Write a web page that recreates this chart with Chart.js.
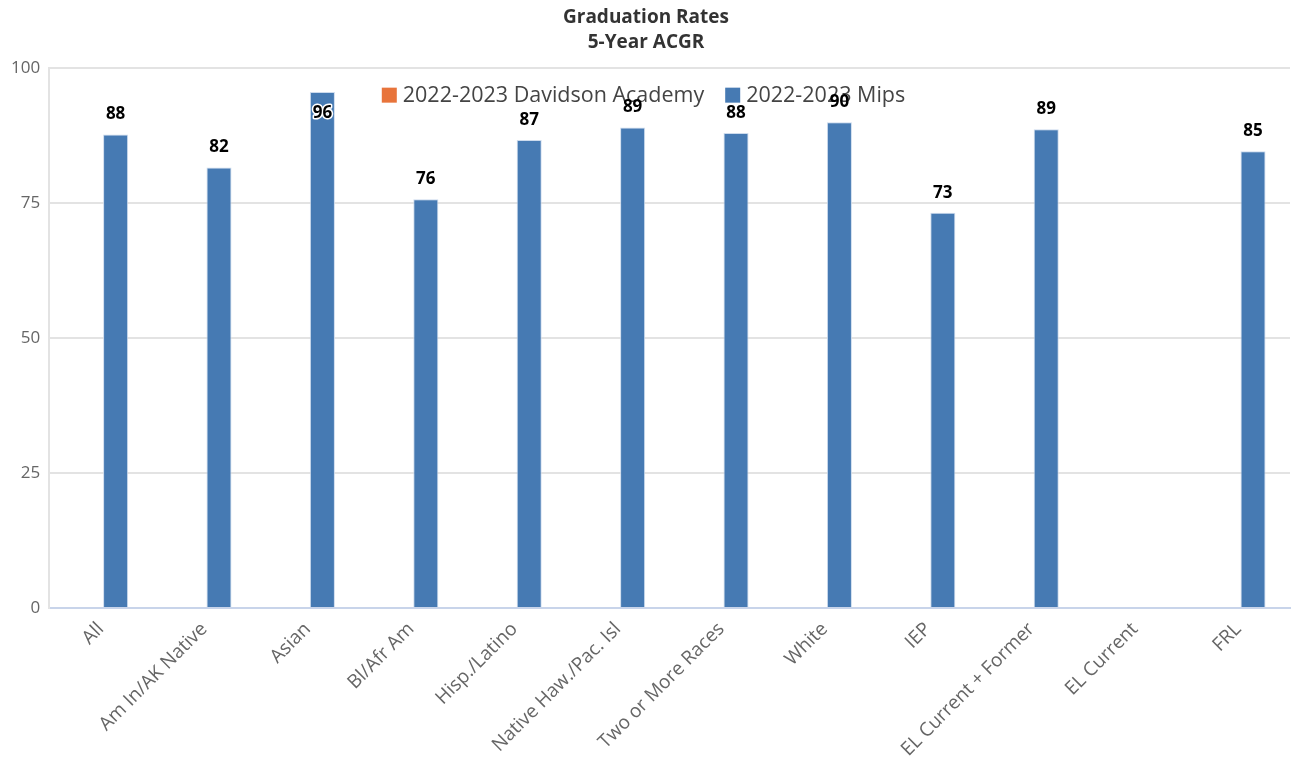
<!DOCTYPE html>
<html>
<head>
<meta charset="utf-8">
<script src="https://cdn.jsdelivr.net/npm/chart.js@4/dist/chart.umd.min.js"></script>
<style>
  html, body { margin: 0; padding: 0; background: #fff; }
  #wrap { width: 1291px; height: 763px; }
</style>
</head>
<body>
<div id="wrap"><canvas id="grad"></canvas></div>
<script>
const groups = ["All", "Am In/AK Native", "Asian", "Bl/Afr Am", "Hisp./Latino",
  "Native Haw./Pac. Isl", "Two or More Races", "White", "IEP",
  "EL Current + Former", "EL Current", "FRL"];
const davidsonRates = [null, null, null, null, null, null, null, null, null, null, null, null];
const mipsRates = [87.7, 81.6, 95.6, 75.7, 86.7, 89.0, 88.0, 90.0, 73.2, 88.7, null, 84.6];
const yTicks = [0, 25, 50, 75, 100];

const FONT = "'Open Sans', 'Noto Sans', sans-serif";

// legend sits inside the plot, just under the top gridline
const innerLegend = {
  id: "innerLegend",
  beforeDatasetsDraw(chart) {
    const ctx = chart.ctx;
    const area = chart.chartArea;
    const box = 15, gap = 6, between = 21;
    ctx.save();
    ctx.font = "21.5px " + FONT;
    const items = chart.data.datasets.map(ds => ({
      text: ds.label, color: ds.backgroundColor, w: box + gap + ctx.measureText(ds.label).width
    }));
    const total = items.reduce((s, it) => s + it.w, 0) + between * (items.length - 1);
    let x = chart.width / 2 - total / 2 - 2;
    const y = area.top + 27;
    items.forEach(it => {
      ctx.fillStyle = it.color;
      ctx.fillRect(x, y - box / 2, box, box);
      ctx.fillStyle = "#444";
      ctx.textBaseline = "middle";
      ctx.textAlign = "left";
      ctx.fillText(it.text, x + box + gap, y + 1);
      x += it.w + between;
    });
    ctx.restore();
  }
};

// rounded value over each bar; pushed inside the bar when it would leave the plot
const barLabels = {
  id: "barLabels",
  afterDatasetsDraw(chart) {
    const ctx = chart.ctx;
    const area = chart.chartArea;
    ctx.save();
    ctx.font = "bold 17px " + FONT;
    ctx.textAlign = "center";
    ctx.textBaseline = "middle";
    chart.data.datasets.forEach((ds, i) => {
      const meta = chart.getDatasetMeta(i);
      meta.data.forEach((bar, j) => {
        const v = ds.data[j];
        if (v == null) return;
        const txt = String(Math.round(v));
        let y = bar.y - 20;
        if (y - 10 < area.top) {
          y = bar.y + 21;
          ctx.lineWidth = 3;
          ctx.strokeStyle = "#fff";
          ctx.lineJoin = "round";
          ctx.strokeText(txt, bar.x, y);
        }
        ctx.fillStyle = "#000";
        ctx.fillText(txt, bar.x, y);
      });
    });
    ctx.restore();
  }
};

new Chart(document.getElementById("grad"), {
  type: "bar",
  data: {
    labels: groups,
    datasets: [
      { label: "2022-2023 Davidson Academy", data: davidsonRates, backgroundColor: "#e8743b" },
      { label: "2022-2023 Mips", data: mipsRates, backgroundColor: "#467ab3",
        borderColor: "rgba(200,215,235,0.9)", borderWidth: 1 }
    ]
  },
  options: {
    responsive: true,
    maintainAspectRatio: false,
    animation: false,
    layout: { padding: { left: 2, right: 1, top: 0, bottom: 0 } },
    categoryPercentage: 0.57,
    barPercentage: 0.85,
    plugins: {
      legend: { display: false },
      tooltip: { enabled: false },
      title: {
        display: true,
        text: ["Graduation Rates", "5-Year ACGR"],
        color: "#333",
        font: { family: FONT, size: 19, weight: "bold", lineHeight: 1.32 },
        padding: { top: 5, bottom: 13 }
      }
    },
    scales: {
      x: {
        grid: { display: false },
        border: { color: "#c8d4ea", width: 2 },
        ticks: {
          color: "#666",
          font: { family: FONT, size: 19 },
          minRotation: 45,
          maxRotation: 45,
          padding: 2
        }
      },
      y: {
        min: 0,
        max: 100,
        afterBuildTicks(axis) { axis.ticks = yTicks.map(v => ({ value: v })); },
        grid: { color: "#e3e3e3", lineWidth: 2, drawTicks: false },
        border: { color: "#e3e3e3", width: 2 },
        ticks: {
          color: "#666",
          font: { family: FONT, size: 17 },
          padding: 9
        }
      }
    }
  },
  plugins: [innerLegend, barLabels]
});
</script>
</body>
</html>
